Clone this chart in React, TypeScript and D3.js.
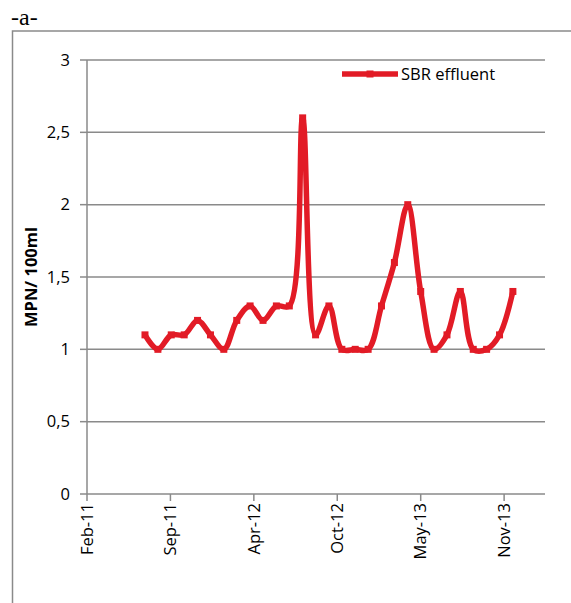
import React from "react";
import * as d3 from "d3";

const sampleDates = [
  "2011-07-16", "2011-08-16", "2011-09-17", "2011-10-18", "2011-11-19", "2011-12-20",
  "2012-01-21", "2012-02-21", "2012-03-24", "2012-04-24", "2012-05-26", "2012-06-26",
  "2012-07-28", "2012-08-28", "2012-09-29", "2012-10-30", "2012-12-01", "2013-01-01",
  "2013-02-02", "2013-03-05", "2013-04-06", "2013-05-07", "2013-06-08", "2013-07-09",
  "2013-08-10", "2013-09-10", "2013-10-12", "2013-11-12", "2013-12-14",
];
const sbrEffluent = [
  1.1, 1.0, 1.1, 1.1, 1.2, 1.1,
  1.0, 1.2, 1.3, 1.2, 1.3, 1.3,
  2.6, 1.1, 1.3, 1.0, 1.0, 1.0,
  1.3, 1.6, 2.0, 1.4, 1.0, 1.1,
  1.4, 1.0, 1.0, 1.1, 1.4,
];
const xTickDates = ["2011-02-27", "2011-09-15", "2012-04-02", "2012-10-19", "2013-05-07", "2013-11-23"];
const xDomain = ["2011-02-27", "2014-03-01"];
const yTicks = [0, 0.5, 1, 1.5, 2, 2.5, 3];
const seriesName = "SBR effluent";
const yTitle = "MPN/ 100ml";
const panelLabel = "-a-";

const parse = d3.utcParse("%Y-%m-%d");
const W = 571, H = 603;
const L = 87, R = 545, T = 60, B = 494;
const RED = "#E21B26";
const GRID = "#8a8a8a";
const FONT = "'Open Sans', Lato, sans-serif";
const FS = 16.5;

export default function App() {
  const x = d3.scaleUtc().domain(xDomain.map((d) => parse(d)!)).range([L, R]);
  const y = d3.scaleLinear().domain([0, 3]).range([B, T]);
  const pts = sampleDates.map((d, i) => [x(parse(d)!), y(sbrEffluent[i])] as [number, number]);
  const line = d3.line().curve(d3.curveCatmullRom.alpha(0.5))(pts) || "";
  const fmtX = d3.utcFormat("%b-%y");
  const fmtY = (v: number) => String(v).replace(".", ",");

  return (
    <svg width={W} height={H} style={{ position: "absolute", left: 0, top: 0, background: "#fff" }}>
      <text x={11} y={25} fontFamily="'Liberation Serif', 'DejaVu Serif', serif" fontSize={24} fill="#000">{panelLabel}</text>
      <path d={`M12.5,${H} V31 H${W}`} fill="none" stroke={GRID} strokeWidth={1.5} />
      {yTicks.map((t) => (
        <g key={t}>
          {t > 0 && <line x1={L} x2={R} y1={y(t)} y2={y(t)} stroke={GRID} strokeWidth={1.5} />}
          <line x1={L - 7} x2={L} y1={y(t)} y2={y(t)} stroke={GRID} strokeWidth={1.5} />
          <text x={70} y={y(t)} dy="0.35em" textAnchor="end" fontFamily={FONT} fontSize={FS} fill="#000">{fmtY(t)}</text>
        </g>
      ))}
      <line x1={L} x2={L} y1={T} y2={B} stroke={GRID} strokeWidth={1.5} />
      <line x1={L} x2={R} y1={B} y2={B} stroke={GRID} strokeWidth={1.5} />
      {xTickDates.map((d) => {
        const xx = x(parse(d)!);
        return (
          <g key={d}>
            <line x1={xx} x2={xx} y1={B} y2={B + 7} stroke={GRID} strokeWidth={1.5} />
            <text transform={`translate(${xx},${B + 9}) rotate(-90)`} dy="0.35em" textAnchor="end" fontFamily={FONT} fontSize={FS} fill="#000">{fmtX(parse(d)!)}</text>
          </g>
        );
      })}
      <text transform={`translate(31,${(T + B) / 2}) rotate(-90)`} dy="0.35em" textAnchor="middle" fontFamily={FONT} fontWeight="bold" fontSize={FS} fill="#000">{yTitle}</text>
      <path d={line} fill="none" stroke={RED} strokeWidth={5.5} strokeLinejoin="round" />
      {pts.map((p, i) => (
        <rect key={i} x={p[0] - 3.5} y={p[1] - 3.5} width={7} height={7} fill={RED} />
      ))}
      <line x1={342} x2={398} y1={74} y2={74} stroke={RED} strokeWidth={5.5} />
      <rect x={366.5} y={70.5} width={7} height={7} fill={RED} />
      <text x={401} y={74} dy="0.35em" fontFamily={FONT} fontSize={FS} fill="#000">{seriesName}</text>
    </svg>
  );
}
